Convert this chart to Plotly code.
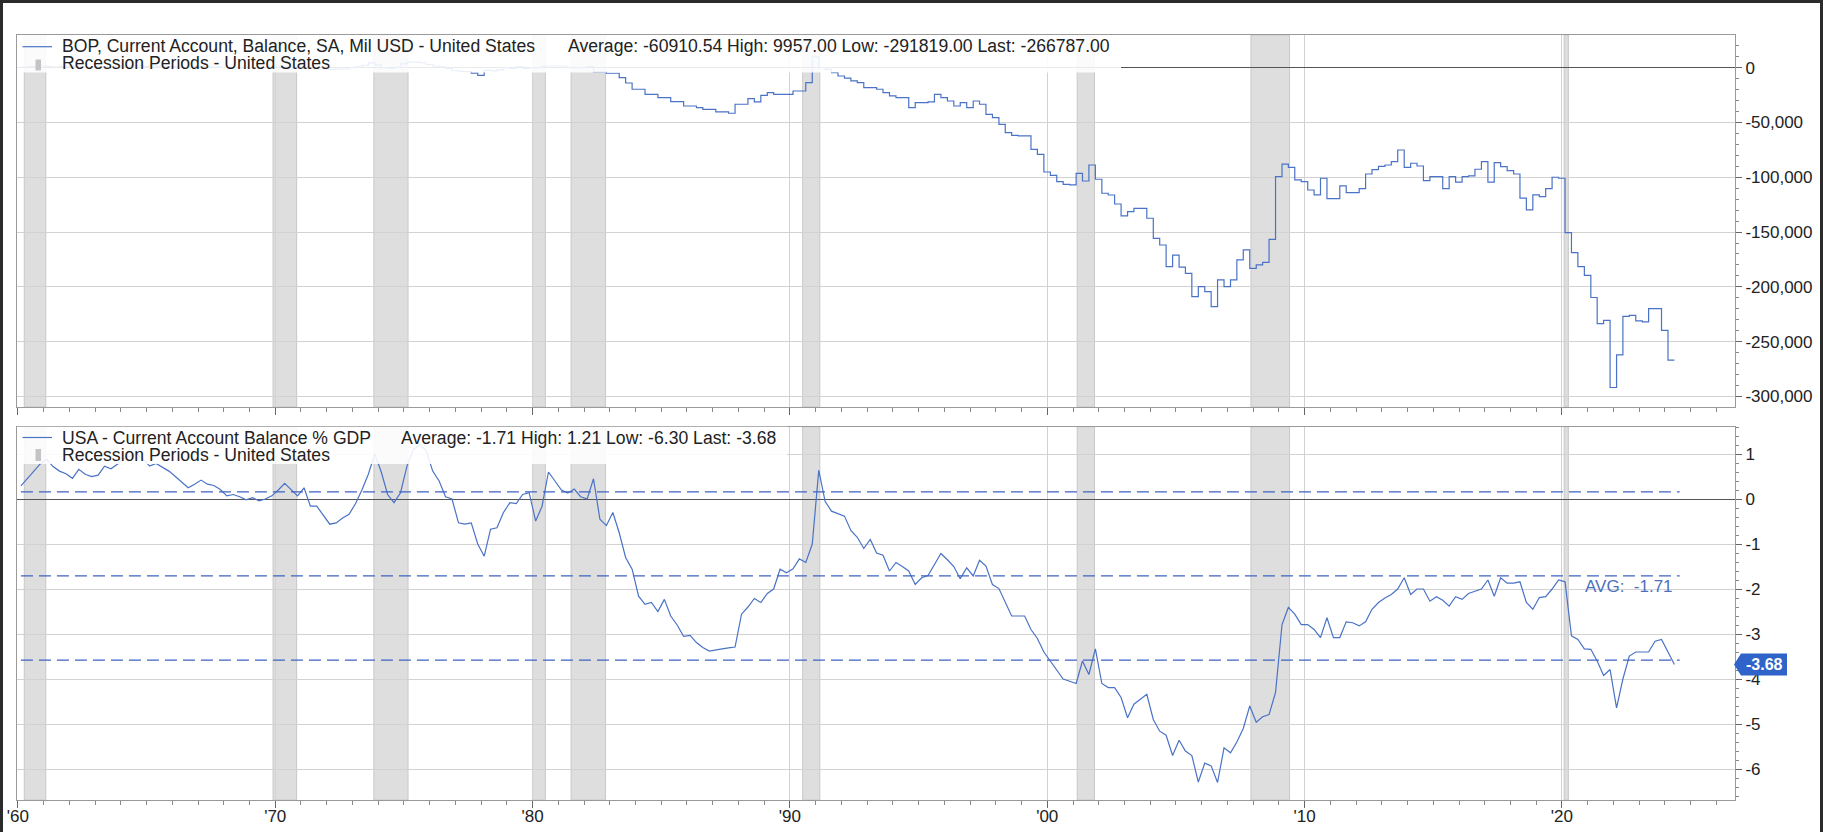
import pandas as pd
import plotly.graph_objects as go

# ---------------- data ----------------
FIRST_QUARTER = "1960Q1"
LAST_QUARTER = "2024Q2"

# BOP, Current Account, Balance, SA, Mil USD (quarterly)
bop_current_account = [
    300, 600, 900, 1000,            # 1960
    1500, 900, 600, 900,            # 1961
    900, 1200, 800, 600,            # 1962
    900, 1000, 900, 1500,           # 1963
    1700, 1500, 1600, 1900,         # 1964
    1200, 1500, 1400, 1200,         # 1965
    1100, 700, 600, 700,            # 1966
    900, 700, 400, 600,             # 1967
    200, 200, 200, 0,               # 1968
    0, -200, 100, 100,              # 1969
    500, 800, 600, 400,             # 1970
    500, -500, -700, -1100,         # 1971
    -1400, -1500, -1300, -1200,     # 1972
    0, 800, 2000, 4300,             # 1973
    2500, 0, -500, 200,             # 1974
    3500, 5000, 5100, 4500,         # 1975
    2900, 1500, 700, -700,          # 1976
    -2800, -3300, -3500, -5000,     # 1977
    -7000, -2500, -3000, -2000,     # 1978
    0, -600, 1000, -700,            # 1979
    0, 0, 1500, 1500,               # 1980
    1500, 1500, 0, 0,               # 1981
    0, 900, -3900, -3900,           # 1982
    -5100, -5100, -9100, -14000,    # 1983
    -19700, -19700, -24300, -24300, # 1984
    -27300, -27300, -31000, -31000, # 1985
    -35000, -35000, -36500, -38000, # 1986
    -38000, -40400, -40400, -41600, # 1987
    -33400, -33400, -28300, -31300, # 1988
    -25200, -22800, -24300, -24300, # 1989
    -24300, -21300, -21300, -13700, # 1990
    9957, 0, -1500, -4500,          # 1991
    -7600, -9500, -12100, -13700,   # 1992
    -18200, -18200, -19700, -22800, # 1993
    -25800, -27300, -27300, -36500, # 1994
    -31900, -31900, -31300, -24300, # 1995
    -27300, -30400, -35000, -31900, # 1996
    -36500, -30400, -33400, -42600, # 1997
    -45600, -51700, -59300, -61700, # 1998
    -62300, -62300, -74500, -79100, # 1999
    -95200, -98200, -104000, -106400,   # 2000
    -107000, -96400, -103400, -88800,   # 2001
    -101800, -114600, -116200, -124400, # 2002
    -135300, -131300, -128300, -128300, # 2003
    -137400, -155700, -161800, -181500, # 2004
    -171000, -182000, -187600, -208900, # 2005
    -199800, -204300, -218000, -193700, # 2006
    -199800, -193700, -175400, -166200, # 2007
    -183100, -180000, -177600, -156600, # 2008
    -99400, -88000, -91000, -102400,    # 2009
    -103900, -111600, -116000, -100900, # 2010
    -119500, -119500, -107900, -114000, # 2011
    -114000, -110400, -97000, -93000,   # 2012
    -90000, -88800, -85700, -75100,     # 2013
    -90900, -87200, -89700, -103000,    # 2014
    -99400, -99400, -110400, -99400,    # 2015
    -104500, -99400, -98800, -92700,    # 2016
    -85700, -104500, -86600, -90300,    # 2017
    -94000, -97000, -119100, -129800,   # 2018
    -116000, -117600, -110400, -100000, # 2019
    -100900, -150500, -168700, -181500, # 2020
    -189500, -209700, -233500, -230500, # 2021
    -291819, -262000, -227000, -226000, # 2022
    -231000, -232000, -219900, -219900, # 2023
    -239600, -266787,                   # 2024
]

# USA - Current Account Balance % GDP (quarterly)
ca_pct_gdp = [
    0.29, 0.45, 0.62, 0.78,     # 1960
    0.88, 0.72, 0.62, 0.56,     # 1961
    0.46, 0.66, 0.55, 0.50,     # 1962
    0.53, 0.73, 0.67, 0.77,     # 1963
    0.90, 0.95, 1.00, 0.88,     # 1964
    0.73, 0.79, 0.70, 0.62,     # 1965
    0.50, 0.38, 0.25, 0.33,     # 1966
    0.42, 0.33, 0.30, 0.21,     # 1967
    0.07, 0.10, 0.05, -0.02,    # 1968
    0.03, -0.04, 0.00, 0.07,    # 1969
    0.20, 0.35, 0.21, 0.07,     # 1970
    0.25, -0.16, -0.16, -0.35,  # 1971
    -0.56, -0.53, -0.42, -0.34, # 1972
    -0.10, 0.20, 0.55, 1.00,    # 1973
    0.60, 0.10, -0.08, 0.14,    # 1974
    0.73, 1.10, 1.21, 1.07,     # 1975
    0.62, 0.40, 0.05, 0.00,     # 1976
    -0.53, -0.56, -0.53, -1.00, # 1977
    -1.27, -0.67, -0.64, -0.30, # 1978
    -0.08, -0.10, 0.10, 0.14,   # 1979
    -0.49, -0.16, 0.60, 0.40,   # 1980
    0.20, 0.13, 0.22, 0.05,     # 1981
    0.00, 0.45, -0.45, -0.59,   # 1982
    -0.30, -0.75, -1.30, -1.56, # 1983
    -2.16, -2.34, -2.30, -2.50, # 1984
    -2.23, -2.60, -2.80, -3.05, # 1985
    -3.03, -3.19, -3.30, -3.38, # 1986
    -3.35, -3.33, -3.31, -3.29, # 1987
    -2.56, -2.40, -2.21, -2.30, # 1988
    -2.10, -2.00, -1.56, -1.64, # 1989
    -1.55, -1.33, -1.41, -1.00, # 1990
    0.64, -0.05, -0.27, -0.32,  # 1991
    -0.38, -0.70, -0.85, -1.10, # 1992
    -0.90, -1.20, -1.25, -1.60, # 1993
    -1.41, -1.50, -1.60, -1.90, # 1994
    -1.75, -1.70, -1.45, -1.21, # 1995
    -1.35, -1.50, -1.77, -1.53, # 1996
    -1.71, -1.36, -1.49, -1.90, # 1997
    -1.99, -2.30, -2.60, -2.60, # 1998
    -2.60, -2.90, -3.10, -3.40, # 1999
    -3.60, -3.79, -4.00, -4.05, # 2000
    -4.10, -3.60, -3.90, -3.33, # 2001
    -4.10, -4.19, -4.19, -4.41, # 2002
    -4.86, -4.56, -4.45, -4.34, # 2003
    -4.90, -5.16, -5.25, -5.70, # 2004
    -5.36, -5.60, -5.70, -6.29, # 2005
    -5.87, -5.93, -6.30, -5.53, # 2006
    -5.64, -5.40, -5.10, -4.60, # 2007
    -4.96, -4.84, -4.79, -4.30, # 2008
    -2.79, -2.41, -2.56, -2.79, # 2009
    -2.79, -2.90, -3.08, -2.64, # 2010
    -3.08, -3.08, -2.73, -2.75, # 2011
    -2.82, -2.73, -2.45, -2.30, # 2012
    -2.20, -2.12, -2.00, -1.75, # 2013
    -2.12, -2.00, -2.00, -2.27, # 2014
    -2.17, -2.25, -2.38, -2.17, # 2015
    -2.23, -2.10, -2.05, -2.00, # 2016
    -1.80, -2.16, -1.75, -1.87, # 2017
    -1.87, -1.84, -2.30, -2.45, # 2018
    -2.19, -2.17, -2.00, -1.80, # 2019
    -1.84, -3.04, -3.12, -3.33, # 2020
    -3.34, -3.60, -3.92, -3.79, # 2021
    -4.64, -4.00, -3.49, -3.40, # 2022
    -3.40, -3.40, -3.16, -3.12, # 2023
    -3.40, -3.68,               # 2024
]

recession_starts = ["1960-04-01", "1969-12-01", "1973-11-01", "1980-01-01", "1981-07-01",
                    "1990-07-01", "2001-03-01", "2007-12-01", "2020-02-01"]
recession_ends = ["1961-02-01", "1970-11-01", "1975-03-01", "1980-07-01", "1982-11-01",
                  "1991-03-01", "2001-11-01", "2009-06-01", "2020-04-01"]

ca_average = -1.71
ca_band_upper = 0.16
ca_band_lower = -3.58
ca_last = -3.68

bop_ticks = [0, -50000, -100000, -150000, -200000, -250000, -300000]
ca_ticks = [1, 0, -1, -2, -3, -4, -5, -6]

bop_name = "BOP, Current Account, Balance, SA, Mil USD - United States"
bop_stats = "Average: -60910.54 High: 9957.00 Low: -291819.00 Last: -266787.00"
ca_name = "USA - Current Account Balance % GDP"
ca_stats = "Average: -1.71 High: 1.21 Low: -6.30 Last: -3.68"
recession_name = "Recession Periods - United States"
avg_label = "AVG:\u00a0\u00a0-1.71"

# ---------------- styling ----------------
FONT = "Liberation Sans, Arial, sans-serif"
TEXT = "#222222"
BLUE = "#4a72c6"
DASH_BLUE = "#3e63c2"
GRID = "#d2d2d2"
FRAME = "#9a9a9a"
REC_FILL = "#dedede"
REC_LINE = "#c8c8c8"
LEGEND_SIZE = 17.6

W, H = 1823, 832
ML, MR, MT, MB = 17, 88, 35, 32
PW, PH = W - ML - MR, H - MT - MB


def px_x(p):
    return (p - ML) / PW


def px_y(p):
    return (H - MB - p) / PH


quarters = pd.period_range(FIRST_QUARTER, LAST_QUARTER, freq="Q")
dates = quarters.to_timestamp(how="start") + pd.Timedelta(days=44)

top_dom = [px_y(407), 1.0]
bot_dom = [0.0, px_y(426.7)]
x_range = ["1959-12-20", "2026-09-22"]

fig = go.Figure()
fig.add_trace(go.Scatter(x=dates, y=bop_current_account, mode="lines", line_shape="vh",
                         line=dict(color=BLUE, width=1.2), xaxis="x", yaxis="y",
                         hoverinfo="skip"))
fig.add_trace(go.Scatter(x=dates, y=ca_pct_gdp, mode="lines",
                         line=dict(color=BLUE, width=1.2), xaxis="x2", yaxis="y2",
                         hoverinfo="skip"))

shapes = []
# page: white interior with a dark frame on top / left / right
shapes.append(dict(type="rect", xref="paper", yref="paper", x0=px_x(-5), x1=px_x(W + 5),
                   y0=px_y(H + 5), y1=px_y(-5), fillcolor="white", line=dict(width=0),
                   layer="below"))
for (a, b, c, d) in ((-5, 3, -5, H + 5), (-5, W + 5, -5, 3), (W - 3, W + 5, -5, H + 5)):
    shapes.append(dict(type="rect", xref="paper", yref="paper", x0=px_x(a), x1=px_x(b),
                       y0=px_y(d), y1=px_y(c), fillcolor="#2b2b2b", line=dict(width=0),
                       layer="above"))

# recession periods in both panels
for s, e in zip(recession_starts, recession_ends):
    for xr, yr in (("x", "y domain"), ("x2", "y2 domain")):
        shapes.append(dict(type="rect", xref=xr, yref=yr, x0=s, x1=e, y0=0, y1=1,
                           fillcolor=REC_FILL, line=dict(color=REC_LINE, width=1),
                           layer="below"))

# average and +/- 1 std lines
line_end = dates[-1] + pd.Timedelta(days=75)
for v in (ca_band_upper, ca_average, ca_band_lower):
    shapes.append(dict(type="line", xref="x2", yref="y2", x0=dates[0], x1=line_end,
                       y0=v, y1=v, line=dict(color=DASH_BLUE, width=1.2, dash="12px,6px"),
                       layer="above"))

# legend boxes (semi-transparent white)
shapes.append(dict(type="rect", xref="paper", yref="paper", x0=0, x1=px_x(1121),
                   y0=px_y(72.5), y1=1, fillcolor="rgba(255,255,255,0.88)",
                   line=dict(width=0), layer="above"))
shapes.append(dict(type="rect", xref="paper", yref="paper", x0=0, x1=px_x(787),
                   y0=px_y(464), y1=bot_dom[1], fillcolor="rgba(255,255,255,0.88)",
                   line=dict(width=0), layer="above"))
# legend glyphs
for ly, gy0, gy1 in ((46.7, 59.5, 70.5), (437.5, 449, 461)):
    shapes.append(dict(type="line", xref="paper", yref="paper", x0=px_x(22.5), x1=px_x(52),
                       y0=px_y(ly), y1=px_y(ly), line=dict(color=BLUE, width=1.2),
                       layer="above"))
    shapes.append(dict(type="rect", xref="paper", yref="paper", x0=px_x(35.5), x1=px_x(41),
                       y0=px_y(gy1), y1=px_y(gy0), fillcolor="#c4c4c4",
                       line=dict(width=0), layer="above"))

# last value tag (arrow box)
hh = 11 / 45.0
shapes.append(dict(type="path", xref="paper", yref="y2",
                   path=(f"M {px_x(1734)} {ca_last} L {px_x(1741)} {ca_last + hh} "
                         f"L {px_x(1787)} {ca_last + hh} L {px_x(1787)} {ca_last - hh} "
                         f"L {px_x(1741)} {ca_last - hh} Z"),
                   fillcolor="#2f63c9", line=dict(width=0), layer="above"))

annotations = []


def add_text(txt, xp, yp, size=LEGEND_SIZE, color=TEXT, **kw):
    annotations.append(dict(text=txt, xref="paper", yref="paper", x=px_x(xp), y=px_y(yp),
                            xanchor="left", yanchor="middle", showarrow=False,
                            font=dict(family=FONT, size=size, color=color), borderpad=0,
                            **kw))


add_text(bop_name, 61, 46.5)
add_text(bop_stats, 567, 46.5)
add_text(recession_name, 61, 63.5)
add_text(ca_name, 61, 437.5)
add_text(ca_stats, 400, 437.5)
add_text(recession_name, 61, 455)

annotations.append(dict(text=avg_label, xref="x2", yref="y2", x=dates[-1], y=ca_average,
                        xanchor="right", yanchor="top", showarrow=False,
                        font=dict(family=FONT, size=17, color="#4d70bd"), borderpad=0))
annotations.append(dict(text=f"<b>{ca_last:.2f}</b>", xref="paper", yref="y2",
                        x=px_x(1764), y=ca_last, xanchor="center", yanchor="middle",
                        showarrow=False, font=dict(family=FONT, size=16, color="white"),
                        borderpad=0))

xcommon = dict(type="date", range=x_range, showline=True, mirror=True, linecolor=FRAME,
               linewidth=1, showgrid=True, gridcolor=GRID, gridwidth=1, automargin=False,
               tick0="1960-01-01", dtick="M120", ticks="outside", ticklen=7,
               tickcolor="#666", tickformat="'%y",
               minor=dict(dtick="M12", tick0="1960-01-01", ticks="outside", ticklen=4,
                          tickcolor="#888", showgrid=False),
               tickfont=dict(family=FONT, size=17, color=TEXT), zeroline=False)
ycommon = dict(side="right", showline=True, mirror=True, linecolor=FRAME, linewidth=1,
               showgrid=True, gridcolor=GRID, gridwidth=1, ticks="outside", ticklen=6,
               tickcolor="#666", zeroline=True, zerolinecolor="#555", zerolinewidth=1,
               automargin=False,
               tickfont=dict(family=FONT, size=17, color=TEXT), tickmode="array")

fig.update_layout(
    width=W, height=H, autosize=False,
    margin=dict(l=ML, r=MR, t=MT, b=MB, pad=0, autoexpand=False),
    paper_bgcolor="white", plot_bgcolor="white",
    showlegend=False,
    font=dict(family=FONT, size=17, color=TEXT),
    xaxis=dict(xcommon, domain=[0, 1], anchor="y", showticklabels=False),
    yaxis=dict(ycommon, domain=top_dom, anchor="x", range=[-309600, 29800],
               tickvals=bop_ticks, ticktext=[f"{v:,}" for v in bop_ticks],
               minor=dict(dtick=10000, tick0=0, ticks="outside", ticklen=3, tickcolor="#888",
                          showgrid=False)),
    xaxis2=dict(xcommon, domain=[0, 1], anchor="y2", matches="x", ticklabelstandoff=-6),
    yaxis2=dict(ycommon, domain=bot_dom, anchor="x2", range=[-6.689, 1.607],
                tickvals=ca_ticks, ticktext=[str(v) for v in ca_ticks],
                minor=dict(dtick=0.2, tick0=0, ticks="outside", ticklen=3, tickcolor="#888",
                           showgrid=False)),
    shapes=shapes,
    annotations=annotations,
)

fig.write_html("out.html", config={"displayModeBar": False, "staticPlot": True},
               post_script="document.body.style.margin='0';document.body.style.overflow='hidden';")
